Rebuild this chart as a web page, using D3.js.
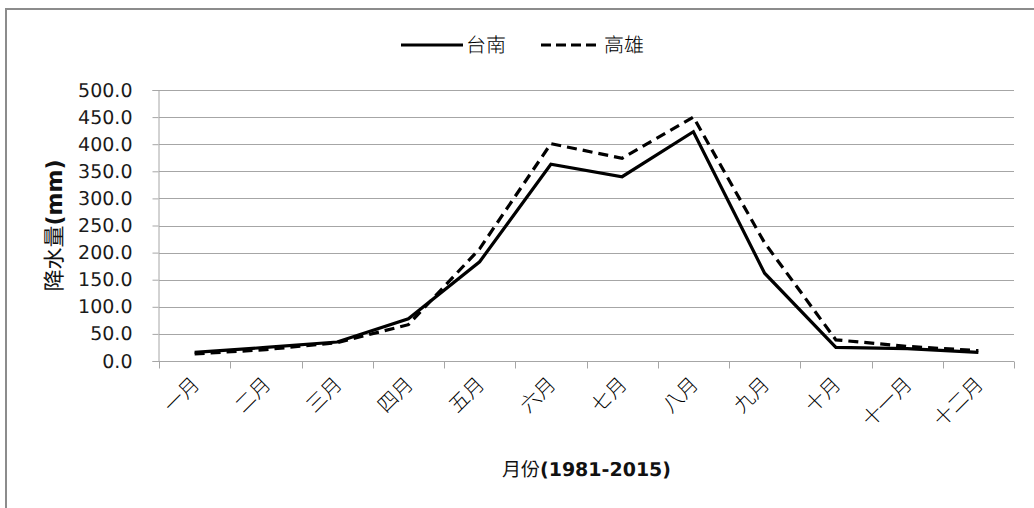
<!DOCTYPE html>
<html>
<head>
<meta charset="utf-8">
<script src="https://cdn.jsdelivr.net/npm/d3@7"></script>
<style>
  body { margin: 0; background: #fff; }
  svg { display: block; font-family: "DejaVu Sans", Verdana, sans-serif; text-rendering: geometricPrecision; }
</style>
</head>
<body>
<div id="chart"></div>
<script>
// 月份
const months = ["一月", "二月", "三月", "四月", "五月", "六月", "七月", "八月", "九月", "十月", "十一月", "十二月"];
// 降水量 (mm)
const tainan = [16, 25, 35, 78, 183, 363, 340, 423, 162, 25, 23, 16];
const kaohsiung = [13, 21, 34, 67, 207, 401, 374, 450, 218, 39, 27, 19];
const yTicks = [0, 50, 100, 150, 200, 250, 300, 350, 400, 450, 500];
const seriesNames = ["台南", "高雄"];

const width = 1034, height = 508;
const margin = { left: 159, right: 20, top: 90, bottom: 147 };

const svg = d3.select("#chart").append("svg")
    .attr("width", width)
    .attr("height", height);

// outer frame
svg.append("path")
    .attr("d", `M6,${height + 5} L6,9 L${width + 5},9`)
    .attr("fill", "none")
    .attr("stroke", "#8c8c8c")
    .attr("stroke-width", 2);

const x = d3.scaleBand()
    .domain(months)
    .range([margin.left, width - margin.right]);

const y = d3.scaleLinear()
    .domain([0, 500])
    .range([height - margin.bottom, margin.top]);

// gridlines
svg.append("g")
    .selectAll("line")
    .data(yTicks)
    .join("line")
    .attr("x1", margin.left)
    .attr("x2", width - margin.right)
    .attr("y1", d => Math.round(y(d)) + 0.5)
    .attr("y2", d => Math.round(y(d)) + 0.5)
    .attr("stroke", "#a6a6a6")
    .attr("stroke-width", 1);

// y axis
const yAxis = svg.append("g")
    .attr("transform", `translate(${margin.left - 0.5},0)`)
    .call(d3.axisLeft(y).tickValues(yTicks).tickFormat(d3.format(".1f")).tickSize(6).tickPadding(20));
yAxis.select(".domain").attr("stroke", "#a6a6a6");
yAxis.selectAll(".tick line").attr("stroke", "#a6a6a6");
yAxis.selectAll(".tick text")
    .attr("font-size", 19)
    .attr("font-family", "DejaVu Sans, sans-serif")
    .attr("fill", "#1a1a1a");

// x axis with ticks on band edges
const xAxis = svg.append("g")
    .attr("transform", `translate(0,${Math.round(y(0)) + 0.5})`);
xAxis.append("line")
    .attr("x1", margin.left)
    .attr("x2", width - margin.right)
    .attr("stroke", "#a6a6a6");
const edges = months.map(m => x(m)).concat([x(months[months.length - 1]) + x.bandwidth()]);
xAxis.selectAll(".edge")
    .data(edges)
    .join("line")
    .attr("class", "edge")
    .attr("x1", d => Math.round(d) + 0.5)
    .attr("x2", d => Math.round(d) + 0.5)
    .attr("y1", 0)
    .attr("y2", 7)
    .attr("stroke", "#a6a6a6");
xAxis.selectAll("text")
    .data(months)
    .join("text")
    .attr("transform", d => `translate(${x(d) + x.bandwidth() / 2 + 6},24) rotate(-45)`)
    .attr("text-anchor", "end")
    .attr("font-family", "Noto Sans CJK TC, sans-serif")
    .attr("font-size", 20)
    .attr("font-weight", 300)
    .attr("fill", "#000")
    .text(d => d);

// lines
const line = d3.line()
    .x((d, i) => x(months[i]) + x.bandwidth() / 2)
    .y(d => y(d));

svg.append("path")
    .datum(kaohsiung)
    .attr("d", line)
    .attr("fill", "none")
    .attr("stroke", "#000")
    .attr("stroke-width", 3.2)
    .attr("stroke-dasharray", "10,6");

svg.append("path")
    .datum(tainan)
    .attr("d", line)
    .attr("fill", "none")
    .attr("stroke", "#000")
    .attr("stroke-width", 3.2)
    .attr("stroke-linejoin", "miter");

// legend
const legend = svg.append("g").attr("transform", "translate(0,45)");
legend.append("line")
    .attr("x1", 401).attr("x2", 463)
    .attr("stroke", "#000").attr("stroke-width", 3.2);
legend.append("text")
    .attr("x", 466).attr("y", 7)
    .attr("font-family", "Noto Sans CJK TC, sans-serif")
    .attr("font-size", 20).attr("font-weight", 300)
    .text(seriesNames[0]);
legend.append("line")
    .attr("x1", 541).attr("x2", 601)
    .attr("stroke", "#000").attr("stroke-width", 3.2)
    .attr("stroke-dasharray", "10,5");
legend.append("text")
    .attr("x", 604).attr("y", 7)
    .attr("font-family", "Noto Sans CJK TC, sans-serif")
    .attr("font-size", 20).attr("font-weight", 300)
    .text(seriesNames[1]);

// axis titles
const yTitle = svg.append("text")
    .attr("transform", `translate(62,${(y(0) + y(500)) / 2}) rotate(-90)`)
    .attr("text-anchor", "middle")
    .attr("font-size", 22)
    .attr("fill", "#111");
yTitle.append("tspan").attr("font-family", "Noto Sans CJK TC, sans-serif").attr("font-weight", 400).text("降水量");
yTitle.append("tspan").attr("font-weight", "bold").text("(mm)");

const xTitle = svg.append("text")
    .attr("x", (margin.left + width - margin.right) / 2)
    .attr("y", 476)
    .attr("text-anchor", "middle")
    .attr("font-size", 19)
    .attr("fill", "#111");
xTitle.append("tspan").attr("font-family", "Noto Sans CJK TC, sans-serif").attr("font-weight", 400).text("月份");
xTitle.append("tspan").attr("font-weight", "bold").text("(1981-2015)");
</script>
</body>
</html>
